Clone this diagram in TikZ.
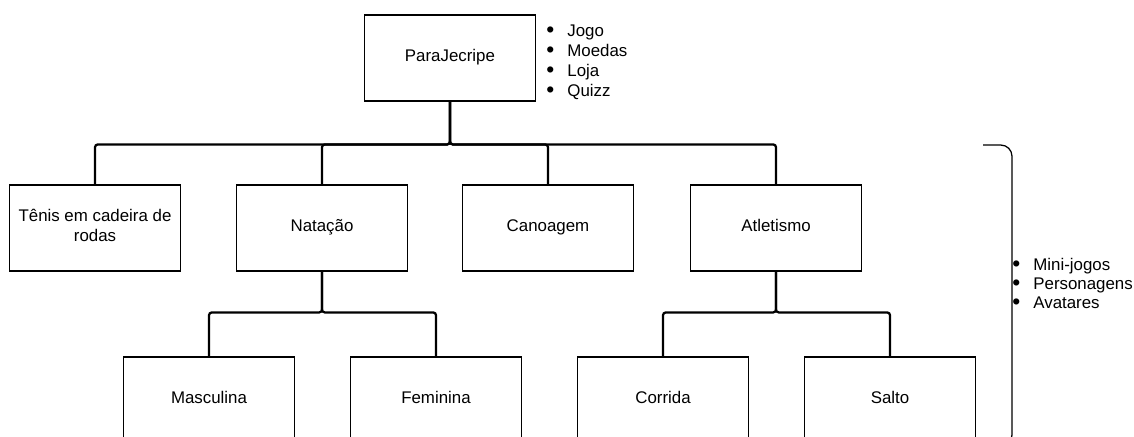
\documentclass[tikz,border=0pt]{standalone}
\usepackage{fontspec}
\setmainfont{Liberation Sans}
\usetikzlibrary{calc}

\newcommand{\itm}[1]{\makebox[15pt][l]{\raisebox{-0.1em}{\scalebox{1.35}{\textbullet}}}#1}

\begin{document}
\begin{tikzpicture}[x=0.025cm,y=-0.025cm,
    caixa/.style={draw,line width=0.8pt,minimum width=4.275cm,minimum height=2.15cm,
      align=center,font=\fontsize{12}{14}\selectfont,inner sep=0pt,
      execute at begin node=\strut,execute at end node=\strut},
    liga/.style={line width=1.6pt,rounded corners=2pt},
    lista/.style={align=left,inner sep=0pt,anchor=west}]
       \useasboundingbox(0,0)rectangle(1134,436);%tamanho da figura
       \clip(0,0)rectangle(1134,436);

       \node[caixa](root)at(450,58){ParaJecripe};%raiz
       \node[lista,font=\fontsize{12}{14.2}\selectfont](info)at(546,62)
           {\itm{Jogo}\\\itm{Moedas}\\\itm{Loja}\\\itm{Quizz}};%lista do topo

       %modalidades
       \node[caixa](tenis)at(95,228){T\^enis em cadeira de\\rodas};
       \node[caixa](natacao)at(322,228){Nata\c{c}\~ao};
       \node[caixa](canoagem)at(548,228){Canoagem};
       \node[caixa](atletismo)at(776,228){Atletismo};

       %provas
       \node[caixa](masc)at(209,400){Masculina};
       \node[caixa](fem)at(436,400){Feminina};
       \node[caixa](corrida)at(663,400){Corrida};
       \node[caixa](salto)at(890,400){Salto};

       \foreach \n in{tenis,natacao,canoagem,atletismo}
           \draw[liga](root.south)|-([yshift=1cm]\n.north)--(\n.north);%barra 1

       \foreach \n in{masc,fem}
           \draw[liga](natacao.south)|-([yshift=1.1cm]\n.north)--(\n.north);%barra 2
       \foreach \n in{corrida,salto}
           \draw[liga](atletismo.south)|-([yshift=1.1cm]\n.north)--(\n.north);%barra 3

       \draw[line width=0.9pt,rounded corners=8pt]
           (983,145)--(1012,145)--(1012,446)--(983,446);%chave
       \node[lista,font=\fontsize{12}{13.5}\selectfont](extra)at(1012,284)
           {\itm{Mini-jogos}\\\itm{Personagens}\\\itm{Avatares}};%lista da chave
\end{tikzpicture}
\end{document}
